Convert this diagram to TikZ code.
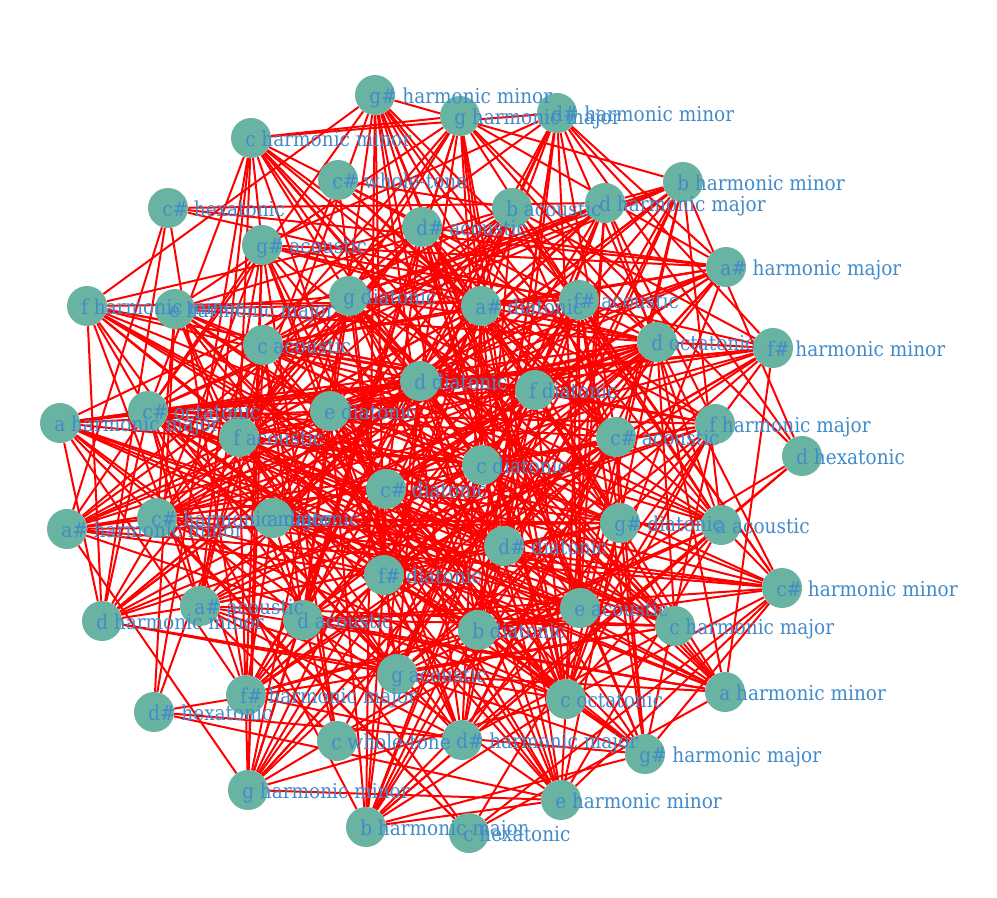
\documentclass[tikz,border=0pt]{standalone}
\usepackage{fontspec}
\usepackage{tikz}
\newfontfamily\labfont[FakeStretch=0.9]{DejaVu Serif}
\definecolor{nodeteal}{HTML}{69B3A2}
\definecolor{labblue}{RGB}{66,139,202}
\pgfdeclarelayer{bg}
\pgfdeclarelayer{fg}
\pgfsetlayers{bg,main,fg}

% scale patterns on c (c c# d d# e f f# g g# a a# b)
\def\patdia{101011010101}
\def\patac{101010110110}
\def\pathmi{101101011001}
\def\pathma{101011011001}
\def\patoct{110110110110}
\def\patwt{101010101010}
\def\pathex{110011001100}

\newcount\rotcnt
\newcount\cmn
\def\rotone#1#2#3#4#5#6#7#8#9{\rotonea{#1#2#3#4#5#6#7#8#9}}
\def\rotonea#1#2#3#4{#4#1#2#3}
\def\mkset#1#2#3{%
  \edef\tmpset{\csname pat#2\endcsname}%
  \rotcnt=0
  \loop\ifnum\rotcnt<#3
    \edef\tmpset{\expandafter\rotone\tmpset}%
    \advance\rotcnt by 1
  \repeat
  \global\expandafter\let\csname pc#1\endcsname\tmpset}
\def\cmpstep#1#2;#3#4;{\ifnum#1#3=11 \global\advance\cmn by 1 \fi%
  \ifx;#2;\else\cmpstep#2;#4;\fi}

\tikzset{
  vert/.style={circle, fill=nodeteal, minimum size=30pt, inner sep=0pt},
  lab/.style={anchor=base west, text=labblue, inner sep=0pt,
    font={\labfont\fontsize{15.4pt}{18pt}\selectfont}},
  edge/.style={draw=red, line width=1.5pt}
}

\begin{document}
\begin{tikzpicture}[x=0.75pt,y=0.75pt,yscale=-1,xscale=1]
\useasboundingbox (0,0) rectangle (997,897);

% Scale nodes
\foreach \k/\x/\y/\lab/\typ/\rt in {
  1/375/95/g\# harmonic minor/hmi/8,
  2/460/116/g harmonic major/hma/7,
  3/557/113/d\# harmonic minor/hmi/3,
  4/251/138/c harmonic minor/hmi/0,
  5/338/180/c\# whole-tone/wt/1,
  6/683/182/b harmonic minor/hmi/11,
  7/168/208/c\# hexatonic/hex/1,
  8/512/208/b acoustic/ac/11,
  9/605/203/d harmonic major/hma/2,
  10/422/227/d\# acoustic/ac/3,
  11/262/245/g\# acoustic/ac/8,
  12/726/267/a\# harmonic major/hma/10,
  13/87/306/f harmonic minor/hmi/5,
  14/175/309/e harmonic major/hma/4,
  15/349/296/g diatonic/dia/7,
  16/481/306/a\# diatonic/dia/10,
  17/579/300/f\# acoustic/ac/6,
  18/263/345/c acoustic/ac/0,
  19/657/342/d octatonic/oct/2,
  20/773/348/f\# harmonic minor/hmi/6,
  21/420/381/d diatonic/dia/2,
  22/535/390/f diatonic/dia/5,
  23/60/423/a harmonic major/hma/9,
  24/148/411/c\# octatonic/oct/1,
  25/330/411/e diatonic/dia/4,
  26/239/437/f acoustic/ac/5,
  27/715/424/f harmonic major/hma/5,
  28/616/437/c\# acoustic/ac/1,
  29/802/456/d hexatonic/hex/2,
  30/482/465/c diatonic/dia/0,
  31/386/489/c\# diatonic/dia/1,
  32/67/529/a\# harmonic minor/hmi/10,
  33/157/518/c\# harmonic major/hma/1,
  34/273/518/a diatonic/dia/9,
  35/620/523/g\# diatonic/dia/8,
  36/721/525/a acoustic/ac/9,
  37/504/546/d\# diatonic/dia/3,
  38/384/575/f\# diatonic/dia/6,
  39/782/588/c\# harmonic minor/hmi/1,
  40/200/606/a\# acoustic/ac/10,
  41/102/621/d harmonic minor/hmi/2,
  42/303/620/d acoustic/ac/2,
  43/580/608/e acoustic/ac/4,
  44/478/630/b diatonic/dia/11,
  45/675/626/c harmonic major/hma/0,
  46/397/674/g acoustic/ac/7,
  47/725/692/a harmonic minor/hmi/9,
  48/246/695/f\# harmonic major/hma/6,
  49/566/699/c octatonic/oct/0,
  50/154/712/d\# hexatonic/hex/3,
  51/337/741/c whole-tone/wt/0,
  52/462/740/d\# harmonic major/hma/3,
  53/645/754/g\# harmonic major/hma/8,
  54/248/790/g harmonic minor/hmi/7,
  55/561/800/e harmonic minor/hmi/4,
  56/366/827/b harmonic major/hma/11,
  57/469/833/c hexatonic/hex/0}{
  \node[vert] (v\k) at (\x,\y) {};
  \begin{pgfonlayer}{fg}
    \node[lab] (l\k) at (\x-6,\y+8) {\lab};
  \end{pgfonlayer}
  \mkset{\k}{\typ}{\rt}
}

% Connectors: scales sharing five or more notes
\begin{pgfonlayer}{bg}
\foreach \i in {1,...,56}{
  \pgfmathtruncatemacro\jfirst{\i+1}
  \foreach \j in {\jfirst,...,57}{
    \global\cmn=0
    \edef\tmp{\noexpand\cmpstep\csname pc\i\endcsname;\csname pc\j\endcsname;}\tmp
    \ifnum\cmn>4 \draw[edge] (v\i) -- (v\j);\fi
  }
}
\end{pgfonlayer}

\end{tikzpicture}
\end{document}
